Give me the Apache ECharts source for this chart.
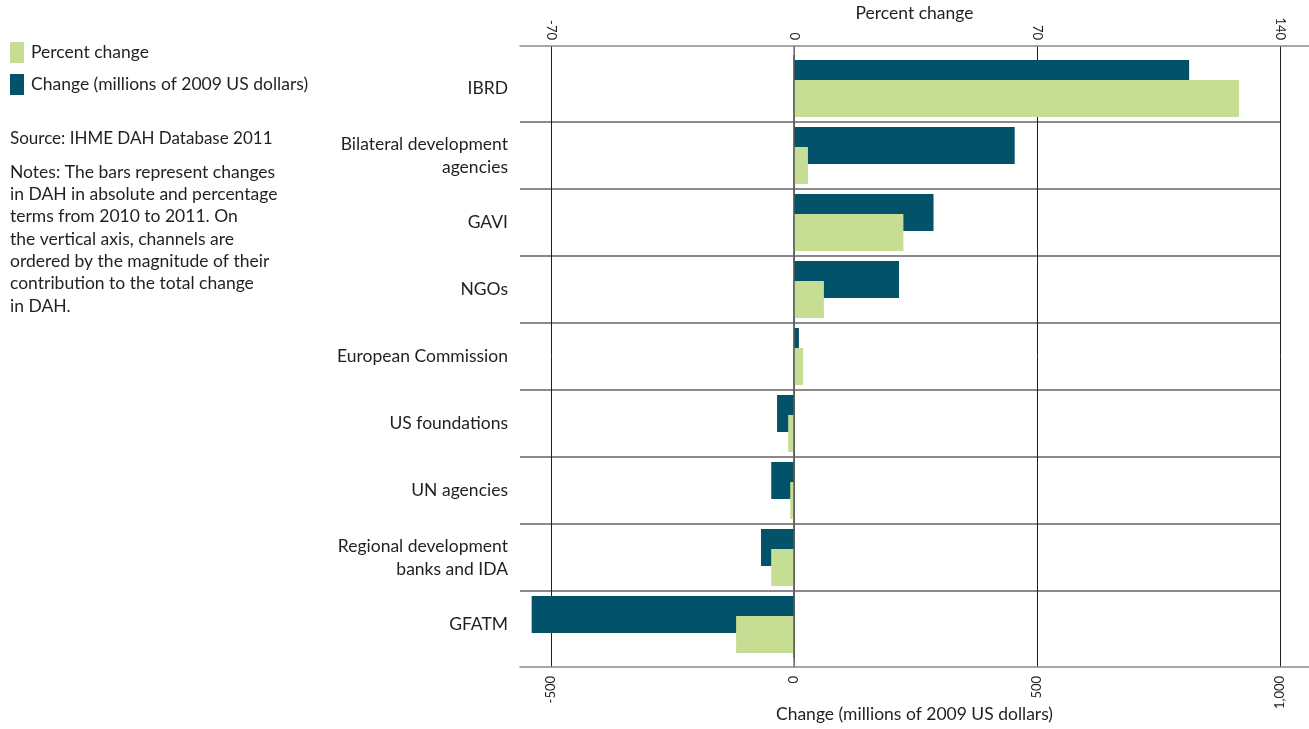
<!DOCTYPE html>
<html>
<head>
<meta charset="utf-8">
<script src="https://cdn.jsdelivr.net/npm/echarts@6/dist/echarts.min.js"></script>
<style>
html,body{margin:0;padding:0;background:#fff;}
#chart{width:1309px;height:729px;}
</style>
</head>
<body>
<div id="chart"></div>
<script>
const categories = ['IBRD', 'Bilateral development\nagencies', 'GAVI', 'NGOs', 'European Commission',
  'US foundations', 'UN agencies', 'Regional development\nbanks and IDA', 'GFATM'];
const changeMillions = [813, 454, 287, 216, 10, -35, -47, -68, -540];
const percentChange = [128.2, 4.0, 31.5, 8.6, 2.6, -1.7, -1.1, -6.6, -16.7];
const changeTickStep = 500;
const percentTickStep = 70;
const changeRange = [-564, 1060];
const percentRange = [-78.96, 148.4];
const changeBarMax = 1000;
const percentBarMax = 140;
const seriesNames = ['Percent change', 'Change (millions of 2009 US dollars)'];
const sourceText = 'Source: IHME DAH Database 2011';
const notesText = 'Notes: The bars represent changes\nin DAH in absolute and percentage\nterms from 2010 to 2011. On\nthe vertical axis, channels are\nordered by the magnitude of their\ncontribution to the total change\nin DAH.';

const FONT = 'Lato';
const FS = 17.5;
const TXT = '#231f20';
const DARK = '#02526a';
const LIGHT = '#c6de93';
const fmt = v => Number(v).toLocaleString('en-US');

const chart = echarts.init(document.getElementById('chart'), null, {renderer: 'canvas'});
chart.setOption({
  backgroundColor: '#fff',
  animation: false,
  textStyle: {fontFamily: FONT, color: TXT},
  title: [
    {text: sourceText, left: 10, top: 128, padding: 0,
     textStyle: {fontFamily: FONT, fontSize: 17, fontWeight: 'normal', color: TXT, lineHeight: 22}},
    {text: notesText, left: 10, top: 161, padding: 0,
     textStyle: {fontFamily: FONT, fontSize: FS, fontWeight: 'normal', color: TXT, lineHeight: 22.3}}
  ],
  legend: {
    orient: 'vertical', left: 10, top: 42, padding: 0, itemWidth: 14, itemHeight: 21, itemGap: 11,
    icon: 'rect', data: seriesNames,
    textStyle: {fontFamily: FONT, fontSize: FS, color: TXT, padding: [0, 0, 0, 2]}
  },
  grid: [
    {left: 520, right: 0, top: 46, bottom: 62, outerBoundsMode: 'none', containLabel: false},
    {left: 520, right: 29, top: 55, bottom: 71, outerBoundsMode: 'none', containLabel: false}
  ],
  xAxis: [
    {
      gridIndex: 0, type: 'value', position: 'bottom', min: changeRange[0], max: changeRange[1],
      splitNumber: 3, minInterval: changeTickStep, maxInterval: changeTickStep,
      name: 'Change (millions of 2009 US dollars)', nameLocation: 'middle', nameGap: 38, nameMoveOverlap: false,
      nameTextStyle: {fontFamily: FONT, fontSize: FS, color: TXT},
      axisLine: {show: true, lineStyle: {color: '#8a8a8a', width: 1.5}},
      axisTick: {show: false},
      axisLabel: {rotate: 90, fontSize: 13, color: TXT, margin: 9, showMinLabel: false, showMaxLabel: false, formatter: fmt},
      splitLine: {show: true, showMinLine: false, showMaxLine: false, lineStyle: {color: '#1e1e1e', width: 1}}
    },
    {
      gridIndex: 0, type: 'value', position: 'top', min: percentRange[0], max: percentRange[1],
      splitNumber: 3, minInterval: percentTickStep, maxInterval: percentTickStep,
      name: 'Percent change', nameLocation: 'middle', nameGap: 24, nameMoveOverlap: false,
      nameTextStyle: {fontFamily: FONT, fontSize: FS, color: TXT},
      axisLine: {show: true, lineStyle: {color: '#8a8a8a', width: 1.5}},
      axisTick: {show: false},
      axisLabel: {rotate: 90, fontSize: 13, color: TXT, margin: 6, showMinLabel: false, showMaxLabel: false, formatter: fmt},
      splitLine: {show: false}
    },
    {gridIndex: 1, type: 'value', min: changeRange[0], max: changeBarMax, show: false},
    {gridIndex: 1, type: 'value', min: percentRange[0], max: percentBarMax, show: false}
  ],
  yAxis: [
    {
      gridIndex: 0, type: 'value', min: 0, max: 1,
      axisLine: {show: true, lineStyle: {color: '#8a8a8a', width: 1.5}},
      axisTick: {show: false}, axisLabel: {show: false}, splitLine: {show: false}
    },
    {
      gridIndex: 1, type: 'category', inverse: true, data: categories,
      axisLine: {show: false}, axisTick: {show: false},
      axisLabel: {fontFamily: FONT, fontSize: FS, color: TXT, margin: 12, lineHeight: 23, align: 'right'},
      splitLine: {show: true, showMinLine: false, showMaxLine: false, lineStyle: {color: '#8a8a8a', width: 2}}
    }
  ],
  series: [
    {
      name: seriesNames[1], type: 'bar', xAxisIndex: 2, yAxisIndex: 1, data: changeMillions,
      barWidth: 37, barGap: '-46%', itemStyle: {color: DARK},
      markLine: {
        silent: true, symbol: 'none', z: 5, label: {show: false},
        lineStyle: {color: '#5a5a5a', width: 1.5, type: 'solid'},
        data: [{xAxis: 0}]
      }
    },
    {
      name: seriesNames[0], type: 'bar', xAxisIndex: 3, yAxisIndex: 1, data: percentChange,
      barWidth: 37, barGap: '-46%', itemStyle: {color: LIGHT}
    }
  ]
});
</script>
</body>
</html>
